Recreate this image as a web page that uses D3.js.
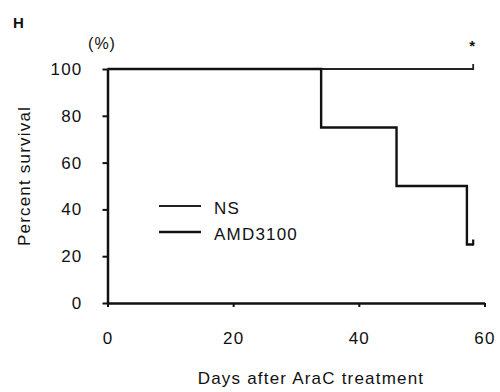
<!DOCTYPE html>
<html>
<head>
<meta charset="utf-8">
<script src="https://cdn.jsdelivr.net/npm/d3@7"></script>
<style>
  body { margin: 0; background: #fff; }
  text { font-family: "Liberation Sans", Arial, sans-serif; fill: #111; }
</style>
</head>
<body>
<script>
// datos
var xTicks = [0, 20, 40, 60];
var yTicks = [0, 20, 40, 60, 80, 100];
var nsDays = [0, 58.2];
var nsSurv = [100, 100];
var amdDays = [0, 34, 46, 57.2, 58.2];
var amdSurv = [100, 75, 50, 25, 25];
var censorNS = [58.2, 100];
var censorAMD = [58.2, 25];

var width = 500, height = 392;

var svg = d3.select("body").append("svg")
  .attr("width", width)
  .attr("height", height);

var x = d3.scaleLinear().domain([0, 60]).range([107.5, 484.5]);
var y = d3.scaleLinear().domain([0, 100]).range([303, 69]);

//// ejes ////
var yAxis = svg.append("g")
  .attr("transform", "translate(107.5,0)")
  .call(d3.axisLeft(y).tickValues(yTicks).tickSize(5).tickPadding(20).tickSizeOuter(0));
var xAxis = svg.append("g")
  .attr("transform", "translate(0,303)")
  .call(d3.axisBottom(x).tickValues(xTicks).tickSize(4).tickPadding(25).tickSizeOuter(0));

[yAxis, xAxis].forEach(function(a) {
  a.select(".domain").attr("stroke", "#111").attr("stroke-width", 2.5);
  a.selectAll(".tick line").attr("stroke", "#111").attr("stroke-width", 2);
  a.selectAll(".tick text")
    .attr("font-size", 17)
    .attr("letter-spacing", "1.2px")
    .attr("fill", "#111")
    .style("font-family", "'Liberation Sans', Arial, sans-serif");
});

//// curvas ////
var line = d3.line()
  .x(function(d) { return x(d[0]); })
  .y(function(d) { return y(d[1]); })
  .curve(d3.curveStepAfter);

svg.append("path")
  .datum(d3.zip(nsDays, nsSurv))
  .attr("fill", "none")
  .attr("stroke", "#222")
  .attr("stroke-width", 1.8)
  .attr("d", line);

svg.append("path")
  .datum(d3.zip(amdDays, amdSurv))
  .attr("fill", "none")
  .attr("stroke", "#111")
  .attr("stroke-width", 2.4)
  .attr("d", line);

// marcas de censura
[censorNS, censorAMD].forEach(function(c, i) {
  svg.append("line")
    .attr("x1", x(c[0])).attr("x2", x(c[0]))
    .attr("y1", y(c[1]) + 1).attr("y2", y(c[1]) - 5)
    .attr("stroke", i === 0 ? "#222" : "#111")
    .attr("stroke-width", i === 0 ? 1.8 : 2.2);
});

svg.append("text")
  .attr("x", x(censorNS[0]) - 4)
  .attr("y", 51)
  .attr("font-size", 15)
  .attr("font-weight", "bold")
  .text("*");

//// leyenda ////
var legend = [["NS", "#222", 1.8, 206], ["AMD3100", "#111", 2.4, 232]];
legend.forEach(function(l) {
  svg.append("line")
    .attr("x1", 159).attr("x2", 201)
    .attr("y1", l[3]).attr("y2", l[3])
    .attr("stroke", l[1]).attr("stroke-width", l[2]);
  svg.append("text")
    .attr("x", 214)
    .attr("y", l[3] + 8)
    .attr("font-size", 17)
    .attr("letter-spacing", "1.2px")
    .text(l[0]);
});

//// textos ////
svg.append("text")
  .attr("x", 13).attr("y", 28)
  .attr("font-size", 15)
  .attr("font-weight", "bold")
  .text("H");

svg.append("text")
  .attr("x", 102).attr("y", 49)
  .attr("text-anchor", "middle")
  .attr("font-size", 16)
  .attr("letter-spacing", "1px")
  .text("(%)");

svg.append("text")
  .attr("x", 311).attr("y", 384)
  .attr("text-anchor", "middle")
  .attr("font-size", 17)
  .attr("letter-spacing", "1.2px")
  .text("Days after AraC treatment");

svg.append("text")
  .attr("transform", "translate(30,176) rotate(-90)")
  .attr("text-anchor", "middle")
  .attr("font-size", 17)
  .attr("letter-spacing", "1.2px")
  .text("Percent survival");
</script>
</body>
</html>
